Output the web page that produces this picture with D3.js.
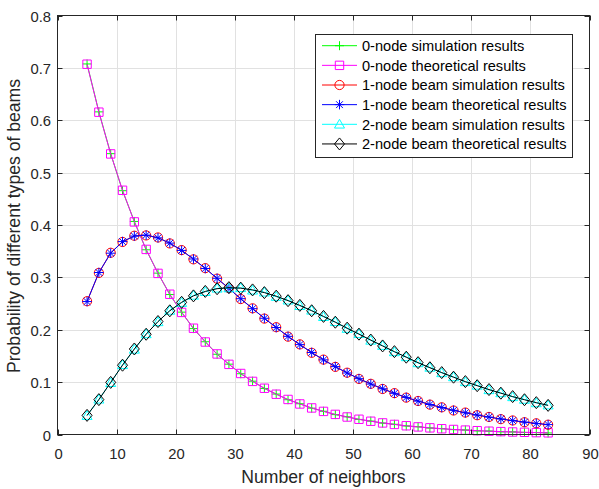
<!DOCTYPE html>
<html>
<head>
<meta charset="utf-8">
<script src="https://cdn.jsdelivr.net/npm/d3@7/dist/d3.min.js"></script>
<style>
  html, body { margin: 0; padding: 0; background: #fff; }
  svg { display: block; font-family: "Liberation Sans", Arial, Helvetica, sans-serif; }
</style>
</head>
<body>
<svg id="chart" width="599" height="489"></svg>
<script>
// Number of neighbors (x positions of all series)
const neighbors = [5,7,9,11,13,15,17,19,21,23,25,27,29,31,33,35,37,39,41,43,45,47,49,51,53,55,57,59,61,63,65,67,69,71,73,75,77,79,81,83];

// 0-node beams
const node0Sim = [0.7075,0.6160,0.5362,0.4655,0.4068,0.3527,0.3081,0.2672,0.2336,0.2022,0.1771,0.1532,0.1343,0.1160,0.1018,0.0879,0.0772,0.0664,0.0587,0.0503,0.0444,0.0380,0.0337,0.0288,0.0256,0.0218,0.0195,0.0163,0.0148,0.0124,0.0112,0.0093,0.0086,0.0070,0.0065,0.0052,0.0050,0.0039,0.0038,0.0030];
const node0Theory = [0.7070,0.6154,0.5357,0.4663,0.4059,0.3534,0.3076,0.2678,0.2331,0.2029,0.1766,0.1538,0.1339,0.1165,0.1014,0.0883,0.0769,0.0669,0.0583,0.0507,0.0441,0.0384,0.0334,0.0291,0.0253,0.0221,0.0192,0.0167,0.0145,0.0127,0.0110,0.0096,0.0084,0.0073,0.0063,0.0055,0.0048,0.0042,0.0036,0.0032];

// 1-node beams
const node1Sim = [0.2545,0.3085,0.3470,0.3676,0.3795,0.3801,0.3762,0.3648,0.3521,0.3344,0.3176,0.2975,0.2794,0.2586,0.2409,0.2213,0.2049,0.1868,0.1721,0.1560,0.1430,0.1291,0.1180,0.1061,0.0968,0.0869,0.0790,0.0704,0.0640,0.0570,0.0519,0.0458,0.0419,0.0368,0.0335,0.0293,0.0268,0.0234,0.0214,0.0187];
const node1Theory = [0.2538,0.3093,0.3462,0.3683,0.3789,0.3807,0.3755,0.3654,0.3515,0.3351,0.3170,0.2982,0.2788,0.2593,0.2403,0.2219,0.2043,0.1874,0.1716,0.1566,0.1425,0.1296,0.1175,0.1066,0.0963,0.0873,0.0786,0.0708,0.0637,0.0573,0.0515,0.0462,0.0414,0.0371,0.0332,0.0297,0.0265,0.0237,0.0211,0.0189];

// 2-node beams
const node2Sim = [0.0360,0.0672,0.0988,0.1330,0.1625,0.1920,0.2150,0.2368,0.2518,0.2655,0.2726,0.2790,0.2796,0.2800,0.2753,0.2716,0.2633,0.2563,0.2458,0.2370,0.2248,0.2151,0.2022,0.1922,0.1796,0.1697,0.1576,0.1481,0.1366,0.1280,0.1176,0.1099,0.1004,0.0937,0.0852,0.0793,0.0718,0.0668,0.0602,0.0560];
const node2Theory = [0.0365,0.0666,0.0995,0.1323,0.1633,0.1914,0.2157,0.2362,0.2524,0.2647,0.2732,0.2784,0.2804,0.2794,0.2761,0.2709,0.2641,0.2556,0.2465,0.2363,0.2255,0.2144,0.2030,0.1916,0.1803,0.1691,0.1582,0.1476,0.1372,0.1275,0.1182,0.1094,0.1010,0.0932,0.0858,0.0789,0.0724,0.0664,0.0608,0.0556];

// Axis ticks and labels
const xTicks = [0,10,20,30,40,50,60,70,80,90];
const yTicks = [0,0.1,0.2,0.3,0.4,0.5,0.6,0.7,0.8];
const xLabel = "Number of neighbors";
const yLabel = "Probability of different types of beams";

const seriesNames = [
  "0-node simulation results",
  "0-node theoretical results",
  "1-node beam simulation results",
  "1-node beam theoretical results",
  "2-node beam simulation results",
  "2-node beam theoretical results"
];
const seriesValues = [node0Sim, node0Theory, node1Sim, node1Theory, node2Sim, node2Theory];
const seriesColors = ["#00ff00", "#ff00ff", "#ff0000", "#0000ff", "#00ffff", "#000000"];
const seriesMarkers = ["plus", "square", "circle", "asterisk", "triangle", "diamond"];

// ---- layout ----
const svg = d3.select("#chart");
const L = 57.5, R = 589.5, T = 15.5, B = 434.5;

const x = d3.scaleLinear().domain([0, 90]).range([L, R]);
const y = d3.scaleLinear().domain([0, 0.8]).range([B, T]);

const axisColor = "#262626";
const gridColor = "#e1e1e1";
const tickFont = 14.8;
const labelFont = 17.6;
const legendFont = 14.6;

// grid
const grid = svg.append("g");
grid.selectAll("line.gx").data(xTicks.slice(1, -1)).join("line")
  .attr("x1", d => Math.round(x(d)) + 0.5).attr("x2", d => Math.round(x(d)) + 0.5)
  .attr("y1", T).attr("y2", B)
  .attr("stroke", gridColor).attr("stroke-width", 1);
grid.selectAll("line.gy").data(yTicks.slice(1, -1)).join("line")
  .attr("y1", d => Math.round(y(d)) + 0.5).attr("y2", d => Math.round(y(d)) + 0.5)
  .attr("x1", L).attr("x2", R)
  .attr("stroke", gridColor).attr("stroke-width", 1);

// marker shapes
function markerPath(type) {
  switch (type) {
    case "plus": { const r = 4.5; return `M${-r},0H${r}M0,${-r}V${r}`; }
    case "square": { const r = 4.2; return `M${-r},${-r}H${r}V${r}H${-r}Z`; }
    case "circle": { const r = 4.6; return `M${r},0A${r},${r} 0 1,1 ${-r},0A${r},${r} 0 1,1 ${r},0Z`; }
    case "asterisk": { const r = 4.8, d = 3.4; return `M${-r},0H${r}M0,${-r}V${r}M${-d},${-d}L${d},${d}M${-d},${d}L${d},${-d}`; }
    case "triangle": { const r = 5; return `M0,${-r}L${r},${r * 0.75}L${-r},${r * 0.75}Z`; }
    case "diamond": { const w = 5, h = 6; return `M0,${-h}L${w},0L0,${h}L${-w},0Z`; }
  }
}

// series lines + markers
const line = d3.line().x((d, i) => x(neighbors[i])).y(d => y(d));
const plot = svg.append("g");
seriesValues.forEach((vals, s) => {
  const g = plot.append("g");
  g.append("path").datum(vals)
    .attr("d", line)
    .attr("fill", "none")
    .attr("stroke", seriesColors[s])
    .attr("stroke-width", 1);
  g.selectAll("path.m").data(vals).join("path")
    .attr("class", "m")
    .attr("transform", (d, i) => `translate(${x(neighbors[i])},${y(d)})`)
    .attr("d", markerPath(seriesMarkers[s]))
    .attr("fill", "none")
    .attr("stroke", seriesColors[s])
    .attr("stroke-width", 1);
});

// axes box
const ax = svg.append("g");
ax.append("rect").attr("x", L).attr("y", T).attr("width", R - L).attr("height", B - T)
  .attr("fill", "none").attr("stroke", axisColor).attr("stroke-width", 1);

const tickLen = 5;
xTicks.forEach(t => {
  const px = Math.round(x(t)) + 0.5;
  ax.append("line").attr("x1", px).attr("x2", px).attr("y1", B).attr("y2", B - tickLen).attr("stroke", axisColor);
  ax.append("line").attr("x1", px).attr("x2", px).attr("y1", T).attr("y2", T + tickLen).attr("stroke", axisColor);
  ax.append("text").attr("x", px).attr("y", 459)
    .attr("text-anchor", "middle")
    .attr("font-size", tickFont).attr("fill", "#262626").text(t);
});
yTicks.forEach(t => {
  const py = Math.round(y(t)) + 0.5;
  ax.append("line").attr("x1", L).attr("x2", L + tickLen).attr("y1", py).attr("y2", py).attr("stroke", axisColor);
  ax.append("line").attr("x1", R).attr("x2", R - tickLen).attr("y1", py).attr("y2", py).attr("stroke", axisColor);
  ax.append("text").attr("x", 51).attr("y", py + 5.3)
    .attr("text-anchor", "end")
    .attr("font-size", tickFont).attr("fill", "#262626").text(t === 0 ? "0" : d3.format(".1f")(t));
});

// axis titles
svg.append("text").attr("x", (L + R) / 2).attr("y", 482.5)
  .attr("text-anchor", "middle")
  .attr("font-size", labelFont).attr("fill", "#262626").text(xLabel);
svg.append("text").attr("transform", `translate(19.5,${(T + B) / 2 + 1}) rotate(-90)`)
  .attr("text-anchor", "middle")
  .attr("font-size", labelFont).attr("fill", "#262626").text(yLabel);

// legend
const lg = svg.append("g");
const lgX = 315.5, lgY = 34.5, lgW = 257, lgH = 123;
lg.append("rect").attr("x", lgX).attr("y", lgY).attr("width", lgW).attr("height", lgH)
  .attr("fill", "#fff").attr("stroke", axisColor).attr("stroke-width", 1);
seriesNames.forEach((name, s) => {
  const cy = 45.7 + s * 19.65;
  lg.append("line").attr("x1", 322).attr("x2", 357).attr("y1", cy).attr("y2", cy)
    .attr("stroke", seriesColors[s]).attr("stroke-width", 1);
  lg.append("path").attr("transform", `translate(339.5,${cy})`)
    .attr("d", markerPath(seriesMarkers[s]))
    .attr("fill", "none").attr("stroke", seriesColors[s]).attr("stroke-width", 1);
  lg.append("text").attr("x", 362).attr("y", cy + 5.2)
    .attr("font-size", legendFont).attr("fill", "#000")
    .text(name);
});
</script>
</body>
</html>
